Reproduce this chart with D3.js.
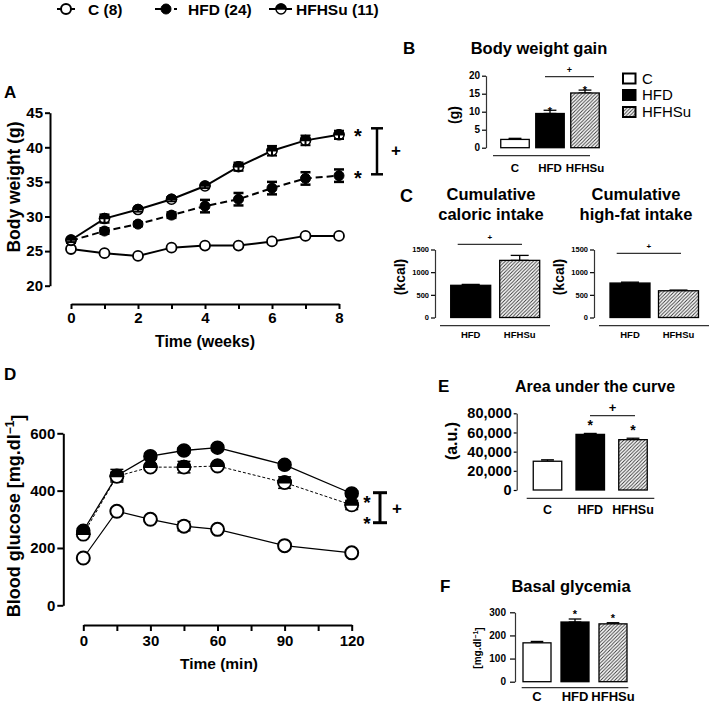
<!DOCTYPE html>
<html><head><meta charset="utf-8">
<script src="https://cdn.jsdelivr.net/npm/d3@7"></script>
<style>body{margin:0;background:#fff}</style>
</head><body>
<svg id="c" width="709" height="708"></svg>
<script>
// ---------- DATA ----------
const weeks = [0,1,2,3,4,5,6,7,8];
const bwC        = [25.3,24.7,24.3,25.5,25.8,25.8,26.4,27.2,27.2];
const bwCErr     = [0.3,0.3,0.3,0.3,0.3,0.3,0.3,0.3,0.3];
const bwHFD      = [26.5,27.9,28.9,30.2,31.5,32.5,34.1,35.5,35.9];
const bwHFDErr   = [0.3,0.4,0.3,0.4,0.9,0.9,0.9,0.9,0.9];
const bwHFHSu    = [26.6,29.7,31.0,32.5,34.4,37.2,39.5,41.0,41.8];
const bwHFHSuErr = [0.3,0.6,0.3,0.3,0.3,0.6,0.7,0.7,0.6];
const weekTicks  = [20,25,30,35,40,45];

const minutes     = [0,15,30,45,60,90,120];
const gluC        = [165,328,300,276,265,208,183];
const gluCErr     = [5,8,8,16,8,8,6];
const gluHFD      = [260,452,520,540,550,490,390];
const gluHFDErr   = [8,22,10,10,8,10,10];
const gluHFHSu    = [248,450,482,482,486,428,350];
const gluHFHSuErr = [8,15,10,20,8,20,16];
const glucoseTicks = [0,200,400,600];

const groups       = ["C","HFD","HFHSu"];
const intakeGroups = ["HFD","HFHSu"];
const gainValues   = [2.3,9.5,15.2];   const gainErr   = [0.3,0.9,0.8];
const caloricValues= [710,1260];       const caloricErr= [20,110];
const fatValues    = [760,590];        const fatErr    = [20,15];
const aucValues    = [30000,58000,52500]; const aucErr = [1500,1000,1500];
const basalValues  = [168,258,250];    const basalErr  = [6,13,5];

const legendLabels = ["C (8)","HFD (24)","HFHSu (11)"];

// ---------- HELPERS ----------
const FONT = "'Liberation Sans', Arial, Helvetica, sans-serif";
const svg = d3.select("#c").attr("font-family", FONT);

const defs = svg.append("defs");
const pat = defs.append("pattern").attr("id","hatch").attr("patternUnits","userSpaceOnUse")
  .attr("width",3.5).attr("height",3.5);
pat.append("rect").attr("width",3.5).attr("height",3.5).attr("fill","#fff");
pat.append("path").attr("d","M-1,1 l2,-2 M0,3.5 l3.5,-3.5 M2.5,4.5 l2,-2")
  .attr("stroke","#333").attr("stroke-width",0.9);

const fills = {C:"#fff", HFD:"#000", HFHSu:"url(#hatch)"};

function txt(x, y, s, size, opt={}) {
  const t = svg.append("text").attr("x",x).attr("y",y).text(s)
    .attr("font-size",size).attr("font-weight", opt.weight || "bold")
    .attr("text-anchor", opt.anchor || "middle").attr("fill","#000");
  if (opt.rotate) t.attr("transform",`rotate(-90,${x},${y})`);
  if (opt.dy) t.attr("dy",opt.dy);
  return t;
}
function styleAxis(g, w, fs) {
  g.attr("font-family", FONT).attr("font-size", fs).attr("font-weight","bold");
  g.selectAll("path.domain").attr("stroke","#000").attr("stroke-width",w);
  g.selectAll(".tick line").attr("stroke","#000").attr("stroke-width",w);
  g.selectAll(".tick text").attr("fill","#000");
}
function marker(g, kind, cx, cy, r, sw) {
  if (kind === "filled") {
    g.append("circle").attr("cx",cx).attr("cy",cy).attr("r",r)
      .attr("fill","#000").attr("stroke","#000").attr("stroke-width",sw);
  } else {
    g.append("circle").attr("cx",cx).attr("cy",cy).attr("r",r)
      .attr("fill","#fff").attr("stroke","#000").attr("stroke-width",sw);
    if (kind === "half") {
      g.append("path").attr("d",`M${cx-r},${cy} A${r},${r} 0 0 1 ${cx+r},${cy} Z`)
        .attr("fill","#000").attr("stroke","#000").attr("stroke-width",sw);
    }
  }
}
function errBar(g, cx, y1, y2, capW, sw) {
  g.append("line").attr("x1",cx).attr("x2",cx).attr("y1",y1).attr("y2",y2)
    .attr("stroke","#000").attr("stroke-width",sw);
  [y1,y2].forEach(yy => g.append("line").attr("x1",cx-capW/2).attr("x2",cx+capW/2)
    .attr("y1",yy).attr("y2",yy).attr("stroke","#000").attr("stroke-width",sw));
}

// ---------- LEGEND (top) ----------
(function(){
  const g = svg.append("g");
  const ly = 9;
  g.append("line").attr("x1",57).attr("x2",75).attr("y1",ly).attr("y2",ly).attr("stroke","#000").attr("stroke-width",2);
  marker(g,"open",66,ly,5,2);
  g.append("line").attr("x1",155).attr("x2",162).attr("y1",ly).attr("y2",ly).attr("stroke","#000").attr("stroke-width",2);
  marker(g,"filled",166,ly,5,1);
  g.append("line").attr("x1",174).attr("x2",177).attr("y1",ly).attr("y2",ly).attr("stroke","#000").attr("stroke-width",2);
  g.append("line").attr("x1",269).attr("x2",292).attr("y1",ly).attr("y2",ly).attr("stroke","#000").attr("stroke-width",2);
  marker(g,"half",281,ly,5,1.5);
  txt(88,14.5,legendLabels[0],15.5,{anchor:"start"});
  txt(188,14.5,legendLabels[1],15.5,{anchor:"start"});
  txt(296,14.5,legendLabels[2],15.5,{anchor:"start"});
})();

// ---------- PANEL A ----------
(function(){
  const x = d3.scaleLinear().domain([0,8]).range([71,339]);
  const y = d3.scaleLinear().domain([20,45]).range([285.7,112.7]);
  const ay = svg.append("g").attr("transform","translate(50,0)")
    .call(d3.axisLeft(y).tickValues(weekTicks).tickSize(5).tickPadding(2).tickSizeOuter(0));
  styleAxis(ay,2,15);
  const ax = svg.append("g").attr("transform","translate(0,304)")
    .call(d3.axisBottom(x).tickValues(weeks).tickSize(5).tickPadding(3).tickSizeOuter(0)
      .tickFormat(d => d % 2 === 0 ? d : ""));
  styleAxis(ax,2,15);
  txt(14,187,"Body weight (g)",17.5,{rotate:true,dy:"0.35em"});
  txt(205,347,"Time (weeks)",16);
  txt(4,98,"A",17,{anchor:"start"});

  const g = svg.append("g");
  const mk = (vals) => d3.line().x((d,i)=>x(weeks[i])).y(d=>y(d))(vals);
  g.append("path").attr("d",mk(bwC)).attr("fill","none").attr("stroke","#000").attr("stroke-width",2);
  g.append("path").attr("d",mk(bwHFD)).attr("fill","none").attr("stroke","#000").attr("stroke-width",2).attr("stroke-dasharray","7,4");
  g.append("path").attr("d",mk(bwHFHSu)).attr("fill","none").attr("stroke","#000").attr("stroke-width",2);
  weeks.forEach((w,i)=>{ errBar(g,x(w),y(bwC[i]-bwCErr[i]),y(bwC[i]+bwCErr[i]),8,1.5); });
  weeks.forEach((w,i)=> marker(g,"open",x(w),y(bwC[i]),5,1.8));
  weeks.forEach((w,i)=> marker(g,"filled",x(w),y(bwHFD[i]),5,1));
  weeks.forEach((w,i)=> errBar(g,x(w),y(bwHFD[i]-bwHFDErr[i]),y(bwHFD[i]+bwHFDErr[i]),10,2.5));
  weeks.forEach((w,i)=> marker(g,"half",x(w),y(bwHFHSu[i]),5,1.5));
  weeks.forEach((w,i)=> errBar(g,x(w),y(bwHFHSu[i]-bwHFHSuErr[i]),y(bwHFHSu[i]+bwHFHSuErr[i]),10,2));
  txt(358,143,"*",20);
  txt(358,185,"*",20);
  errBar(g,377,128.3,174.3,12,2.5);
  txt(396,156,"+",17);
})();

// ---------- PANEL D ----------
(function(){
  const x = d3.scaleLinear().domain([0,120]).range([83.3,351.7]);
  const y = d3.scaleLinear().domain([0,600]).range([605.3,433.3]);
  const ay = svg.append("g").attr("transform","translate(63.3,0)")
    .call(d3.axisLeft(y).tickValues(glucoseTicks).tickSize(6).tickPadding(2).tickSizeOuter(0));
  styleAxis(ay,2,15);
  const ax = svg.append("g").attr("transform","translate(0,625)")
    .call(d3.axisBottom(x).tickValues(d3.range(0,121,15)).tickSize(6).tickPadding(4).tickSizeOuter(0)
      .tickFormat(d => d % 30 === 0 ? d : ""));
  styleAxis(ax,2,15);
  const yl = svg.append("text").attr("transform","translate(14,516) rotate(-90)")
    .attr("text-anchor","middle").attr("dy","0.35em").attr("font-size",18).attr("font-weight","bold");
  yl.append("tspan").text("Blood glucose [mg.dl");
  yl.append("tspan").text("\u22121").attr("font-size",12).attr("dy","-0.55em");
  yl.append("tspan").text("]").attr("dy","0.55em");
  txt(219,669,"Time (min)",15.5);
  txt(4,380,"D",17,{anchor:"start"});

  const g = svg.append("g");
  const mk = (vals) => d3.line().x((d,i)=>x(minutes[i])).y(d=>y(d))(vals);
  g.append("path").attr("d",mk(gluHFHSu)).attr("fill","none").attr("stroke","#000").attr("stroke-width",1).attr("stroke-dasharray","3,2");
  g.append("path").attr("d",mk(gluHFD)).attr("fill","none").attr("stroke","#000").attr("stroke-width",1.3);
  g.append("path").attr("d",mk(gluC)).attr("fill","none").attr("stroke","#000").attr("stroke-width",1.2);
  minutes.forEach((m,i)=> errBar(g,x(m),y(gluHFD[i]-gluHFDErr[i]),y(gluHFD[i]+gluHFDErr[i]),13,1.5));
  minutes.forEach((m,i)=> marker(g,"filled",x(m),y(gluHFD[i]),6.5,1.5));
  minutes.forEach((m,i)=> errBar(g,x(m),y(gluHFHSu[i]-gluHFHSuErr[i]),y(gluHFHSu[i]+gluHFHSuErr[i]),13,1.5));
  minutes.forEach((m,i)=> marker(g,"half",x(m),y(gluHFHSu[i]),6.5,1.8));
  minutes.forEach((m,i)=> errBar(g,x(m),y(gluC[i]-gluCErr[i]),y(gluC[i]+gluCErr[i]),13,1.5));
  minutes.forEach((m,i)=> marker(g,"open",x(m),y(gluC[i]),6.5,2));
  txt(367,509,"*",19);
  txt(367,530,"*",19);
  errBar(g,380,492.7,522.7,14,3);
  txt(397,514,"+",17);
})();

// ---------- BAR CHART HELPER ----------
function barChart(c) {
  const y = d3.scaleLinear().domain(c.yDomain).range(c.yRange);
  const x = d3.scalePoint().domain(c.groups).range(c.xRange);
  const ay = svg.append("g").attr("transform",`translate(${c.axisX},0)`)
    .call(d3.axisLeft(y).tickValues(c.ticks).tickSize(c.tickSize).tickPadding(c.tickPad)
      .tickSizeOuter(0).tickFormat(c.fmt || d3.format("d")));
  styleAxis(ay,c.axisW,c.tickFont);
  ay.selectAll("path.domain").attr("stroke","#333");
  const g = svg.append("g");
  c.groups.forEach((k,i)=>{
    const cx = x(k), v = c.values[i], e = c.errors[i];
    errBar(g,cx,y(v),y(v+e),c.barW*0.45,1.3);
    g.append("rect").attr("x",cx-c.barW/2).attr("y",y(v)).attr("width",c.barW)
      .attr("height",y(0)-y(v)).attr("fill",fills[k]).attr("stroke","#000").attr("stroke-width",1.3);
    txt(cx,c.labelY,k,c.labelFont,{dy:"0.35em"});
    if (c.stars && c.stars[i]) txt(cx,y(v+e)-c.starOff,"*",c.starFont,{dy:"0.75em"});
  });
  g.append("line").attr("x1",c.base[0]).attr("x2",c.base[1]).attr("y1",c.baseY).attr("y2",c.baseY)
    .attr("stroke","#333").attr("stroke-width",1.2);
  if (c.sig) {
    g.append("line").attr("x1",c.sig.x0).attr("x2",c.sig.x1).attr("y1",c.sig.y).attr("y2",c.sig.y)
      .attr("stroke","#333").attr("stroke-width",1.2);
    txt((c.sig.x0+c.sig.x1)/2,c.sig.y-4,"+",c.sig.font);
  }
  return {x,y};
}

// ---------- PANEL B ----------
txt(403,54,"B",17,{anchor:"start"});
txt(539,54,"Body weight gain",16.5);
barChart({groups, values:gainValues, errors:gainErr, yDomain:[0,20], yRange:[147.7,75.7],
  ticks:[0,5,10,15,20], axisX:486, tickSize:4, tickPad:2, axisW:1.2, tickFont:10,
  xRange:[515,585], barW:28.5, labelY:167.5, labelFont:11.5, base:[493,590], baseY:155.7,
  stars:[false,true,true], starOff:4, starFont:11,
  sig:{x0:545,x1:594,y:76.7,font:9}});
txt(454,115,"(g)",14,{rotate:true,dy:"0.35em"});
[["C",78.5],["HFD",95],["HFHSu",112]].forEach(([k,yy])=>{
  svg.append("rect").attr("x",623).attr("y",yy-5).attr("width",12.5).attr("height",10)
    .attr("fill",fills[k]).attr("stroke","#000").attr("stroke-width",2);
  txt(642,yy,k,15,{anchor:"start",weight:"normal",dy:"0.36em"});
});

// ---------- PANEL C ----------
txt(400,202,"C",18,{anchor:"start"});
txt(491,200,"Cumulative",16.5);
txt(491,219.5,"caloric intake",16.5);
txt(636,200,"Cumulative",16.5);
txt(636,219.5,"high-fat intake",16.5);
barChart({groups:intakeGroups, values:caloricValues, errors:caloricErr, yDomain:[0,1500], yRange:[317.5,249.5],
  ticks:[0,500,1000,1500], axisX:435, tickSize:4, tickPad:2, axisW:1.2, tickFont:7.5,
  xRange:[470.7,519.7], barW:40, labelY:334.3, labelFont:9.5, base:[440,550], baseY:325.7,
  sig:{x0:457.7,x1:522,y:244.3,font:8}});
txt(400.5,277,"(kcal)",14,{rotate:true,dy:"0.35em"});
barChart({groups:intakeGroups, values:fatValues, errors:fatErr, yDomain:[0,1500], yRange:[317.5,249.5],
  ticks:[0,500,1000,1500], axisX:594, tickSize:4, tickPad:2, axisW:1.2, tickFont:7.5,
  xRange:[630,678.5], barW:40, labelY:334.3, labelFont:9.5, base:[599,709], baseY:325.7,
  sig:{x0:616.7,x1:681,y:253.3,font:8}});
txt(559.5,277,"(kcal)",14,{rotate:true,dy:"0.35em"});

// ---------- PANEL E ----------
txt(438,392,"E",17,{anchor:"start"});
txt(595,392,"Area under the curve",16);
barChart({groups, values:aucValues, errors:aucErr, yDomain:[0,80000], yRange:[490,413.3],
  ticks:[0,20000,40000,60000,80000], fmt:d3.format(","), axisX:516.7, tickSize:3, tickPad:2, axisW:1.2, tickFont:14.5,
  xRange:[547.5,633], barW:28.5, labelY:509.5, labelFont:12.5, base:[526.7,654.3], baseY:498.3,
  stars:[false,true,true], starOff:14, starFont:14,
  sig:{x0:590,x1:635,y:415.7,font:13}});
txt(451.7,441,"(a.u.)",16,{rotate:true,dy:"0.35em"});

// ---------- PANEL F ----------
txt(440,592,"F",17,{anchor:"start"});
txt(571,592,"Basal glycemia",16.5);
barChart({groups, values:basalValues, errors:basalErr, yDomain:[0,300], yRange:[681.7,612.3],
  ticks:[0,100,200,300], axisX:515, tickSize:5, tickPad:4, axisW:1.2, tickFont:10,
  xRange:[537,613], barW:28, labelY:696.5, labelFont:13, base:[521.7,628.3], baseY:687.7,
  stars:[false,true,true], starOff:9, starFont:11});
(function(){
  const t = svg.append("text").attr("transform","translate(477.5,648) rotate(-90)")
    .attr("text-anchor","middle").attr("dy","0.35em").attr("font-size",10).attr("font-weight","bold");
  t.append("tspan").text("[mg.dl");
  t.append("tspan").text("\u22121").attr("font-size",7).attr("dy","-0.5em");
  t.append("tspan").text("]").attr("dy","0.5em");
})();
</script>
</body></html>
